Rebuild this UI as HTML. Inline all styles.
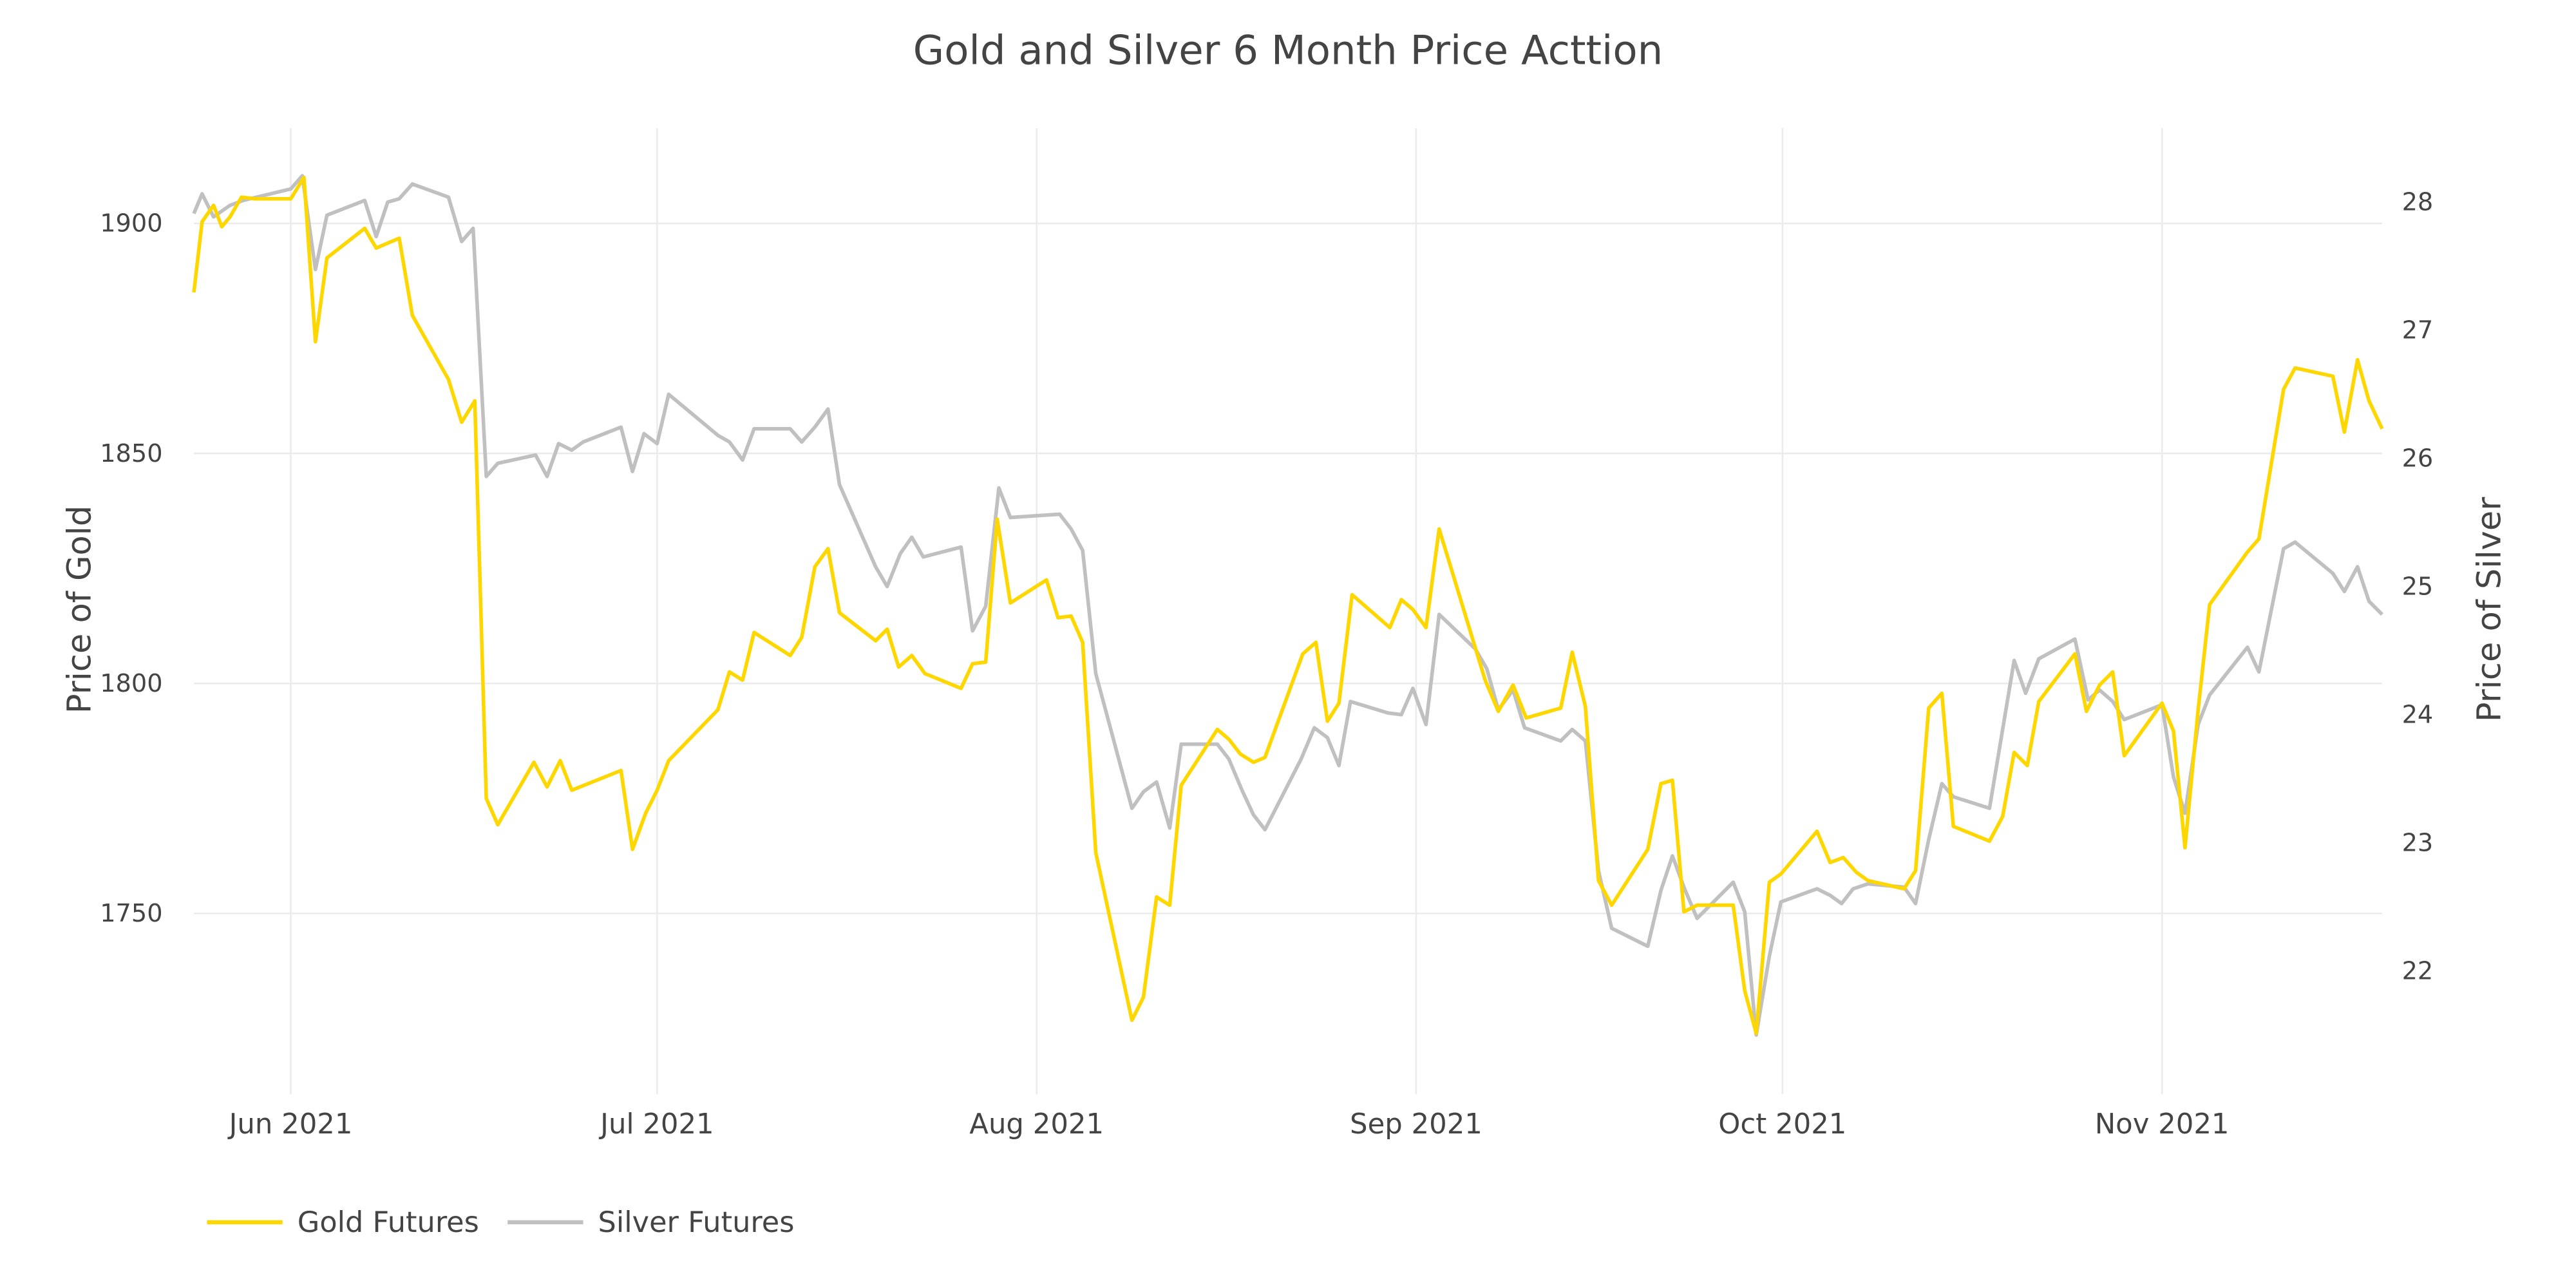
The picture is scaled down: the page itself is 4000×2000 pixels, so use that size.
<!DOCTYPE html>
<html><head><meta charset="utf-8"><style>
html,body{margin:0;padding:0;background:#fff;}
svg{display:block;}
text{font-family:"DejaVu Sans","Liberation Sans",sans-serif;fill:#444;}
</style></head><body>
<svg width="4000" height="2000" viewBox="0 0 1568 784" xmlns="http://www.w3.org/2000/svg">
<rect width="1568" height="784" fill="#fff"/>
<g stroke="#ebebeb" stroke-width="1">
<line x1="177" y1="78" x2="177" y2="666"/><line x1="400" y1="78" x2="400" y2="666"/>
<line x1="631" y1="78" x2="631" y2="666"/><line x1="862" y1="78" x2="862" y2="666"/>
<line x1="1085" y1="78" x2="1085" y2="666"/><line x1="1316" y1="78" x2="1316" y2="666"/>
<line x1="118" y1="136" x2="1450" y2="136"/><line x1="118" y1="276" x2="1450" y2="276"/>
<line x1="118" y1="416" x2="1450" y2="416"/><line x1="118" y1="556" x2="1450" y2="556"/>
</g>
<text x="784" y="39" font-size="24.5" text-anchor="middle">Gold and Silver 6 Month Price Acttion</text>
<g font-size="15" text-anchor="end">
<text x="99" y="141">1900</text><text x="99" y="281">1850</text><text x="99" y="421">1800</text><text x="99" y="561">1750</text>
</g>
<g font-size="15">
<text x="1462" y="128">28</text><text x="1462" y="206">27</text><text x="1462" y="284">26</text><text x="1462" y="362">25</text>
<text x="1462" y="440">24</text><text x="1462" y="518">23</text><text x="1462" y="596">22</text>
</g>
<g font-size="17" text-anchor="middle">
<text x="177" y="690">Jun 2021</text><text x="400" y="690">Jul 2021</text><text x="631" y="690">Aug 2021</text>
<text x="862" y="690">Sep 2021</text><text x="1085" y="690">Oct 2021</text><text x="1316" y="690">Nov 2021</text>
</g>
<text transform="translate(55,371) rotate(-90)" font-size="20" text-anchor="middle">Price of Gold</text>
<text transform="translate(1522,371) rotate(-90)" font-size="20" text-anchor="middle">Price of Silver</text>
<polyline fill="none" stroke="#c0c0c0" stroke-width="2.2" stroke-linejoin="round" points="118,130 123,118 130,132 140,125 148,122 177,115 184,107 192,164 199,131 222,122 229,144 236,123 243,121 251,112 273,120 281,147 288,139 296,290 303,282 326,277 333,290 340,270 348,274 355,269 378,260 385,287 392,264 400,270 407,240 437,265 444,269 452,280 459,261 481,261 488,269 496,260 504,249 511,295 533,345 540,357 548,337 555,327 562,339 585,333 592,384 600,369 608,297 615,315 645,313 652,322 659,335 667,410 689,492 696,482 704,476 712,504 719,453 741,453 748,462 756,481 763,496 770,505 792,462 800,443 808,449 815,466 822,427 845,434 853,435 860,419 868,441 876,374 898,395 905,407 912,432 921,420 928,443 950,451 957,444 965,451 973,530 981,565 1003,576 1011,542 1018,521 1025,540 1033,559 1055,537 1062,555 1069,630 1077,582 1084,549 1106,541 1114,545 1121,550 1128,541 1137,538 1159,540 1166,550 1174,511 1182,477 1189,485 1211,492 1226,402 1233,422 1241,401 1263,389 1271,426 1278,420 1286,427 1293,438 1316,429 1323,473 1330,495 1338,441 1345,423 1368,394 1375,409 1390,334 1397,330 1420,349 1427,360 1435,345 1442,366 1450,374"/>
<polyline fill="none" stroke="#FFD700" stroke-width="2.2" stroke-linejoin="round" points="118,178 123,135 130,125 135,138 140,132 147,120 155,121 170,121 177,121 185,108 192,208 199,157 222,139 229,151 243,145 251,192 273,231 281,257 289,244 296,486 303,502 325,464 333,479 341,463 348,481 378,469 385,517 393,495 400,481 407,463 437,432 444,409 452,414 459,385 481,399 488,388 496,345 504,334 511,373 533,390 540,383 547,406 555,399 563,410 585,419 592,404 600,403 607,316 615,367 637,353 644,376 652,375 659,391 667,519 689,621 696,607 704,546 712,551 719,478 741,444 748,450 755,459 763,464 770,461 793,398 801,391 808,439 815,428 823,362 846,382 853,365 860,371 868,382 876,322 904,414 912,433 921,417 929,437 950,431 957,397 965,430 973,536 981,551 1003,517 1011,477 1018,475 1025,555 1033,551 1055,551 1062,603 1069,629 1077,537 1084,532 1106,506 1114,525 1122,522 1130,531 1137,536 1159,541 1166,530 1174,431 1182,422 1189,503 1211,512 1219,497 1226,458 1234,466 1241,427 1263,398 1270,433 1278,417 1286,409 1293,460 1316,428 1323,445 1330,516 1338,432 1345,368 1368,336 1375,328 1390,237 1397,224 1420,229 1427,263 1435,219 1442,244 1450,261"/>
<line x1="126" y1="744" x2="172" y2="744" stroke="#FFD700" stroke-width="2.5"/>
<text x="181" y="750" font-size="17.5">Gold Futures</text>
<line x1="309" y1="744" x2="355" y2="744" stroke="#c0c0c0" stroke-width="2.5"/>
<text x="364" y="750" font-size="17.5">Silver Futures</text>
</svg>
</body></html>
